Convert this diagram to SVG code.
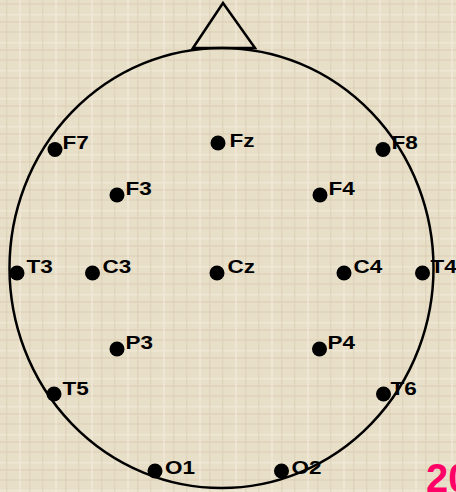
<svg xmlns="http://www.w3.org/2000/svg" width="456" height="492" viewBox="0 0 456 492">
<style>
.lbl{font-family:"Liberation Sans",Arial,sans-serif;font-weight:bold;font-size:18px;fill:#000}
.dot{fill:#000}
.head{fill:none;stroke:#000;stroke-width:2.5}
</style>
<defs>
<pattern id="tex" width="36" height="28" patternUnits="userSpaceOnUse">
<rect width="36" height="28" fill="#E8DFC8"/>
<rect x="0" y="3" width="36" height="2" fill="#DDD2B8" opacity="0.6"/>
<rect x="0" y="14" width="36" height="1.5" fill="#F2ECDC" opacity="0.7"/>
<rect x="0" y="21" width="36" height="2" fill="#D9CEB2" opacity="0.5"/>
<rect x="6" y="0" width="1.5" height="28" fill="#DCD1B6" opacity="0.6"/>
<rect x="19" y="0" width="2" height="28" fill="#F1EADA" opacity="0.6"/>
<rect x="29" y="0" width="1.5" height="28" fill="#D8CCAF" opacity="0.5"/>
</pattern>
</defs>
<rect width="456" height="492" fill="url(#tex)"/>
<g id="head">
<ellipse class="head" cx="221.5" cy="268" rx="212" ry="220"/>
<polygon class="head" points="193,48 223,3 255,48" stroke-linejoin="miter"/>
</g>
<g id="connectors"></g>
<g id="F7"><circle class="dot" cx="55" cy="149.5" r="7.5"/><text class="lbl" x="62.5" y="149" textLength="26.3" lengthAdjust="spacingAndGlyphs">F7</text></g>
<g id="Fz"><circle class="dot" cx="218" cy="143" r="7.5"/><text class="lbl" x="229.5" y="146.5" textLength="25" lengthAdjust="spacingAndGlyphs">Fz</text></g>
<g id="F8"><circle class="dot" cx="383" cy="149.5" r="7.5"/><text class="lbl" x="391.5" y="149" textLength="26.3" lengthAdjust="spacingAndGlyphs">F8</text></g>
<g id="F3"><circle class="dot" cx="117" cy="195" r="7.5"/><text class="lbl" x="125.5" y="194.5" textLength="26.3" lengthAdjust="spacingAndGlyphs">F3</text></g>
<g id="F4"><circle class="dot" cx="320" cy="195" r="7.5"/><text class="lbl" x="328.5" y="194.5" textLength="26.3" lengthAdjust="spacingAndGlyphs">F4</text></g>
<g id="T3"><circle class="dot" cx="17" cy="273" r="7.5"/><text class="lbl" x="26.5" y="272.5" textLength="26.3" lengthAdjust="spacingAndGlyphs">T3</text></g>
<g id="C3"><circle class="dot" cx="92.5" cy="273" r="7.5"/><text class="lbl" x="102.5" y="272.5" textLength="28.8" lengthAdjust="spacingAndGlyphs">C3</text></g>
<g id="Cz"><circle class="dot" cx="217" cy="273" r="7.5"/><text class="lbl" x="227.5" y="272.5" textLength="27.5" lengthAdjust="spacingAndGlyphs">Cz</text></g>
<g id="C4"><circle class="dot" cx="344" cy="273" r="7.5"/><text class="lbl" x="353.5" y="272.5" textLength="28.8" lengthAdjust="spacingAndGlyphs">C4</text></g>
<g id="T4"><circle class="dot" cx="422.5" cy="273" r="7.5"/><text class="lbl" x="430.5" y="272.5" textLength="26.3" lengthAdjust="spacingAndGlyphs">T4</text></g>
<g id="P3"><circle class="dot" cx="117" cy="349" r="7.5"/><text class="lbl" x="125.5" y="348.5" textLength="27.5" lengthAdjust="spacingAndGlyphs">P3</text></g>
<g id="P4"><circle class="dot" cx="319.5" cy="349" r="7.5"/><text class="lbl" x="327.5" y="348.5" textLength="27.5" lengthAdjust="spacingAndGlyphs">P4</text></g>
<g id="T5"><circle class="dot" cx="54" cy="394" r="7.5"/><text class="lbl" x="62.5" y="394.5" textLength="26.3" lengthAdjust="spacingAndGlyphs">T5</text></g>
<g id="T6"><circle class="dot" cx="383.5" cy="394" r="7.5"/><text class="lbl" x="390.5" y="394.5" textLength="26.3" lengthAdjust="spacingAndGlyphs">T6</text></g>
<g id="O1"><circle class="dot" cx="155" cy="471" r="7.5"/><text class="lbl" x="165" y="473.5" textLength="30" lengthAdjust="spacingAndGlyphs">O1</text></g>
<g id="O2"><circle class="dot" cx="281.5" cy="471" r="7.5"/><text class="lbl" x="291.5" y="473.5" textLength="30" lengthAdjust="spacingAndGlyphs">O2</text></g>
<text x="426" y="492" font-family="'Liberation Sans',Arial,sans-serif" font-weight="bold" font-size="40" fill="#FF0066">20</text>
</svg>
